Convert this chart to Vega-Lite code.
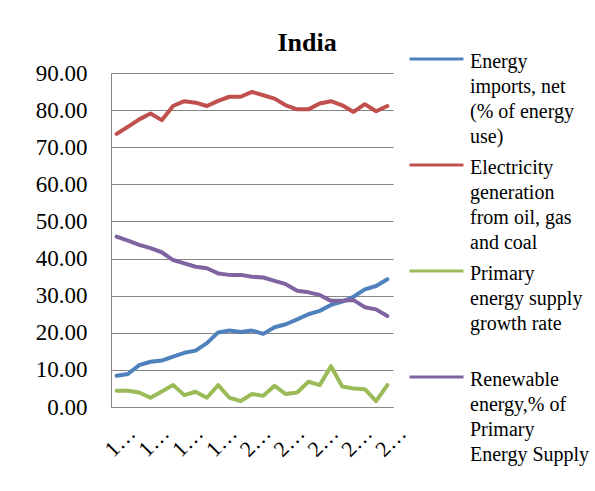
{
  "$schema": "https://vega.github.io/schema/vega-lite/v6.json",
  "width": 282,
  "height": 334,
  "autosize": "none",
  "padding": {"left": 111, "top": 73, "right": 202, "bottom": 84},
  "background": "white",
  "title": {
    "text": "India",
    "font": "Liberation Serif",
    "fontSize": 26,
    "fontWeight": "bold",
    "color": "black",
    "anchor": "middle",
    "frame": "group",
    "dx": 55,
    "dy": -7,
    "baseline": "alphabetic",
    "offset": -43
  },
  "config": {
    "view": {"stroke": null},
    "font": "Liberation Serif"
  },
  "data": {
    "values": [
      {"year": 1990, "series": "Energy\nimports, net\n(% of energy\nuse)", "value": 8.4},
      {"year": 1991, "series": "Energy\nimports, net\n(% of energy\nuse)", "value": 8.9},
      {"year": 1992, "series": "Energy\nimports, net\n(% of energy\nuse)", "value": 11.3},
      {"year": 1993, "series": "Energy\nimports, net\n(% of energy\nuse)", "value": 12.2},
      {"year": 1994, "series": "Energy\nimports, net\n(% of energy\nuse)", "value": 12.5},
      {"year": 1995, "series": "Energy\nimports, net\n(% of energy\nuse)", "value": 13.6},
      {"year": 1996, "series": "Energy\nimports, net\n(% of energy\nuse)", "value": 14.6},
      {"year": 1997, "series": "Energy\nimports, net\n(% of energy\nuse)", "value": 15.2},
      {"year": 1998, "series": "Energy\nimports, net\n(% of energy\nuse)", "value": 17.2},
      {"year": 1999, "series": "Energy\nimports, net\n(% of energy\nuse)", "value": 20.1},
      {"year": 2000, "series": "Energy\nimports, net\n(% of energy\nuse)", "value": 20.6},
      {"year": 2001, "series": "Energy\nimports, net\n(% of energy\nuse)", "value": 20.2},
      {"year": 2002, "series": "Energy\nimports, net\n(% of energy\nuse)", "value": 20.6},
      {"year": 2003, "series": "Energy\nimports, net\n(% of energy\nuse)", "value": 19.7},
      {"year": 2004, "series": "Energy\nimports, net\n(% of energy\nuse)", "value": 21.5},
      {"year": 2005, "series": "Energy\nimports, net\n(% of energy\nuse)", "value": 22.3},
      {"year": 2006, "series": "Energy\nimports, net\n(% of energy\nuse)", "value": 23.6},
      {"year": 2007, "series": "Energy\nimports, net\n(% of energy\nuse)", "value": 25.0},
      {"year": 2008, "series": "Energy\nimports, net\n(% of energy\nuse)", "value": 25.9},
      {"year": 2009, "series": "Energy\nimports, net\n(% of energy\nuse)", "value": 27.5},
      {"year": 2010, "series": "Energy\nimports, net\n(% of energy\nuse)", "value": 28.4},
      {"year": 2011, "series": "Energy\nimports, net\n(% of energy\nuse)", "value": 29.7},
      {"year": 2012, "series": "Energy\nimports, net\n(% of energy\nuse)", "value": 31.7},
      {"year": 2013, "series": "Energy\nimports, net\n(% of energy\nuse)", "value": 32.6},
      {"year": 2014, "series": "Energy\nimports, net\n(% of energy\nuse)", "value": 34.4},
      {"year": 1990, "series": "Electricity\ngeneration\nfrom oil, gas\nand coal", "value": 73.6},
      {"year": 1991, "series": "Electricity\ngeneration\nfrom oil, gas\nand coal", "value": 75.5},
      {"year": 1992, "series": "Electricity\ngeneration\nfrom oil, gas\nand coal", "value": 77.5},
      {"year": 1993, "series": "Electricity\ngeneration\nfrom oil, gas\nand coal", "value": 79.1},
      {"year": 1994, "series": "Electricity\ngeneration\nfrom oil, gas\nand coal", "value": 77.3},
      {"year": 1995, "series": "Electricity\ngeneration\nfrom oil, gas\nand coal", "value": 81.1},
      {"year": 1996, "series": "Electricity\ngeneration\nfrom oil, gas\nand coal", "value": 82.4},
      {"year": 1997, "series": "Electricity\ngeneration\nfrom oil, gas\nand coal", "value": 82.0},
      {"year": 1998, "series": "Electricity\ngeneration\nfrom oil, gas\nand coal", "value": 81.1},
      {"year": 1999, "series": "Electricity\ngeneration\nfrom oil, gas\nand coal", "value": 82.5},
      {"year": 2000, "series": "Electricity\ngeneration\nfrom oil, gas\nand coal", "value": 83.6},
      {"year": 2001, "series": "Electricity\ngeneration\nfrom oil, gas\nand coal", "value": 83.6},
      {"year": 2002, "series": "Electricity\ngeneration\nfrom oil, gas\nand coal", "value": 84.9},
      {"year": 2003, "series": "Electricity\ngeneration\nfrom oil, gas\nand coal", "value": 84.0},
      {"year": 2004, "series": "Electricity\ngeneration\nfrom oil, gas\nand coal", "value": 83.1},
      {"year": 2005, "series": "Electricity\ngeneration\nfrom oil, gas\nand coal", "value": 81.3},
      {"year": 2006, "series": "Electricity\ngeneration\nfrom oil, gas\nand coal", "value": 80.2},
      {"year": 2007, "series": "Electricity\ngeneration\nfrom oil, gas\nand coal", "value": 80.2},
      {"year": 2008, "series": "Electricity\ngeneration\nfrom oil, gas\nand coal", "value": 81.8},
      {"year": 2009, "series": "Electricity\ngeneration\nfrom oil, gas\nand coal", "value": 82.4},
      {"year": 2010, "series": "Electricity\ngeneration\nfrom oil, gas\nand coal", "value": 81.3},
      {"year": 2011, "series": "Electricity\ngeneration\nfrom oil, gas\nand coal", "value": 79.5},
      {"year": 2012, "series": "Electricity\ngeneration\nfrom oil, gas\nand coal", "value": 81.6},
      {"year": 2013, "series": "Electricity\ngeneration\nfrom oil, gas\nand coal", "value": 79.7},
      {"year": 2014, "series": "Electricity\ngeneration\nfrom oil, gas\nand coal", "value": 81.1},
      {"year": 1990, "series": "Primary\nenergy supply\ngrowth rate", "value": 4.4},
      {"year": 1991, "series": "Primary\nenergy supply\ngrowth rate", "value": 4.4},
      {"year": 1992, "series": "Primary\nenergy supply\ngrowth rate", "value": 3.9},
      {"year": 1993, "series": "Primary\nenergy supply\ngrowth rate", "value": 2.5},
      {"year": 1994, "series": "Primary\nenergy supply\ngrowth rate", "value": 4.2},
      {"year": 1995, "series": "Primary\nenergy supply\ngrowth rate", "value": 5.9},
      {"year": 1996, "series": "Primary\nenergy supply\ngrowth rate", "value": 3.2},
      {"year": 1997, "series": "Primary\nenergy supply\ngrowth rate", "value": 4.1},
      {"year": 1998, "series": "Primary\nenergy supply\ngrowth rate", "value": 2.5},
      {"year": 1999, "series": "Primary\nenergy supply\ngrowth rate", "value": 5.9},
      {"year": 2000, "series": "Primary\nenergy supply\ngrowth rate", "value": 2.5},
      {"year": 2001, "series": "Primary\nenergy supply\ngrowth rate", "value": 1.6},
      {"year": 2002, "series": "Primary\nenergy supply\ngrowth rate", "value": 3.5},
      {"year": 2003, "series": "Primary\nenergy supply\ngrowth rate", "value": 3.0},
      {"year": 2004, "series": "Primary\nenergy supply\ngrowth rate", "value": 5.7},
      {"year": 2005, "series": "Primary\nenergy supply\ngrowth rate", "value": 3.5},
      {"year": 2006, "series": "Primary\nenergy supply\ngrowth rate", "value": 3.9},
      {"year": 2007, "series": "Primary\nenergy supply\ngrowth rate", "value": 6.8},
      {"year": 2008, "series": "Primary\nenergy supply\ngrowth rate", "value": 5.9},
      {"year": 2009, "series": "Primary\nenergy supply\ngrowth rate", "value": 11.0},
      {"year": 2010, "series": "Primary\nenergy supply\ngrowth rate", "value": 5.5},
      {"year": 2011, "series": "Primary\nenergy supply\ngrowth rate", "value": 5.0},
      {"year": 2012, "series": "Primary\nenergy supply\ngrowth rate", "value": 4.8},
      {"year": 2013, "series": "Primary\nenergy supply\ngrowth rate", "value": 1.6},
      {"year": 2014, "series": "Primary\nenergy supply\ngrowth rate", "value": 5.9},
      {"year": 1990, "series": "Renewable\nenergy,% of\nPrimary\nEnergy Supply", "value": 45.9},
      {"year": 1991, "series": "Renewable\nenergy,% of\nPrimary\nEnergy Supply", "value": 44.8},
      {"year": 1992, "series": "Renewable\nenergy,% of\nPrimary\nEnergy Supply", "value": 43.7},
      {"year": 1993, "series": "Renewable\nenergy,% of\nPrimary\nEnergy Supply", "value": 42.8},
      {"year": 1994, "series": "Renewable\nenergy,% of\nPrimary\nEnergy Supply", "value": 41.7},
      {"year": 1995, "series": "Renewable\nenergy,% of\nPrimary\nEnergy Supply", "value": 39.6},
      {"year": 1996, "series": "Renewable\nenergy,% of\nPrimary\nEnergy Supply", "value": 38.7},
      {"year": 1997, "series": "Renewable\nenergy,% of\nPrimary\nEnergy Supply", "value": 37.8},
      {"year": 1998, "series": "Renewable\nenergy,% of\nPrimary\nEnergy Supply", "value": 37.4},
      {"year": 1999, "series": "Renewable\nenergy,% of\nPrimary\nEnergy Supply", "value": 36.0},
      {"year": 2000, "series": "Renewable\nenergy,% of\nPrimary\nEnergy Supply", "value": 35.6},
      {"year": 2001, "series": "Renewable\nenergy,% of\nPrimary\nEnergy Supply", "value": 35.6},
      {"year": 2002, "series": "Renewable\nenergy,% of\nPrimary\nEnergy Supply", "value": 35.1},
      {"year": 2003, "series": "Renewable\nenergy,% of\nPrimary\nEnergy Supply", "value": 34.9},
      {"year": 2004, "series": "Renewable\nenergy,% of\nPrimary\nEnergy Supply", "value": 34.0},
      {"year": 2005, "series": "Renewable\nenergy,% of\nPrimary\nEnergy Supply", "value": 33.1},
      {"year": 2006, "series": "Renewable\nenergy,% of\nPrimary\nEnergy Supply", "value": 31.3},
      {"year": 2007, "series": "Renewable\nenergy,% of\nPrimary\nEnergy Supply", "value": 30.9},
      {"year": 2008, "series": "Renewable\nenergy,% of\nPrimary\nEnergy Supply", "value": 30.2},
      {"year": 2009, "series": "Renewable\nenergy,% of\nPrimary\nEnergy Supply", "value": 28.6},
      {"year": 2010, "series": "Renewable\nenergy,% of\nPrimary\nEnergy Supply", "value": 28.6},
      {"year": 2011, "series": "Renewable\nenergy,% of\nPrimary\nEnergy Supply", "value": 28.8},
      {"year": 2012, "series": "Renewable\nenergy,% of\nPrimary\nEnergy Supply", "value": 26.9},
      {"year": 2013, "series": "Renewable\nenergy,% of\nPrimary\nEnergy Supply", "value": 26.3},
      {"year": 2014, "series": "Renewable\nenergy,% of\nPrimary\nEnergy Supply", "value": 24.5}
    ]
  },
  "mark": {"type": "line", "strokeWidth": 4, "strokeJoin": "round", "strokeCap": "round"},
  "encoding": {
    "x": {
      "field": "year",
      "type": "ordinal",
      "scale": {"type": "point", "padding": 0.5},
      "axis": {
        "title": null,
        "values": [1990, 1993, 1996, 1999, 2002, 2005, 2008, 2011, 2014],
        "labelAngle": -45,
        "labelAlign": "center",
        "labelBaseline": "middle",
        "labelPadding": 34,
        "labelOffset": 3,
        "labelLimit": 36,
        "labelFont": "Liberation Serif",
        "labelFontSize": 22,
        "labelColor": "black",
        "ticks": false,
        "domainColor": "#868686",
        "grid": false
      }
    },
    "y": {
      "field": "value",
      "type": "quantitative",
      "scale": {"domain": [0, 90], "nice": false},
      "axis": {
        "title": null,
        "values": [0, 10, 20, 30, 40, 50, 60, 70, 80, 90],
        "format": ".2f",
        "grid": true,
        "gridColor": "#868686",
        "ticks": false,
        "domainColor": "#868686",
        "labelFont": "Liberation Serif",
        "labelFontSize": 23,
        "labelColor": "black",
        "labelPadding": 24
      }
    },
    "color": {
      "field": "series",
      "type": "nominal",
      "scale": {
        "domain": [
          "Energy\nimports, net\n(% of energy\nuse)",
          "Electricity\ngeneration\nfrom oil, gas\nand coal",
          "Primary\nenergy supply\ngrowth rate",
          "Renewable\nenergy,% of\nPrimary\nEnergy Supply"
        ],
        "range": ["#4F81BD", "#C0504D", "#9BBB59", "#8064A2"]
      },
      "legend": {
        "title": null,
        "orient": "none",
        "legendX": 297,
        "legendY": -32,
        "padding": 0,
        "symbolType": "stroke",
        "symbolSize": 2916,
        "symbolStrokeWidth": 3,
        "labelFont": "Liberation Serif",
        "labelFontSize": 20,
        "labelColor": "black",
        "labelOffset": 5,
        "labelBaseline": "top",
        "labelLimit": 200,
        "labelExpr": "split(datum.label, '\\n')",
        "gridAlign": "all",
        "rowPadding": 0,
        "encode": {
          "symbols": {
            "update": {"y": {"value": 18}}
          },
          "labels": {
            "update": {
              "font": {"value": "Liberation Serif"},
              "fontSize": {"value": 20},
              "lineHeight": {"value": 25},
              "y": {"value": 18},
              "dy": {"value": -7}
            }
          }
        }
      }
    }
  }
}
